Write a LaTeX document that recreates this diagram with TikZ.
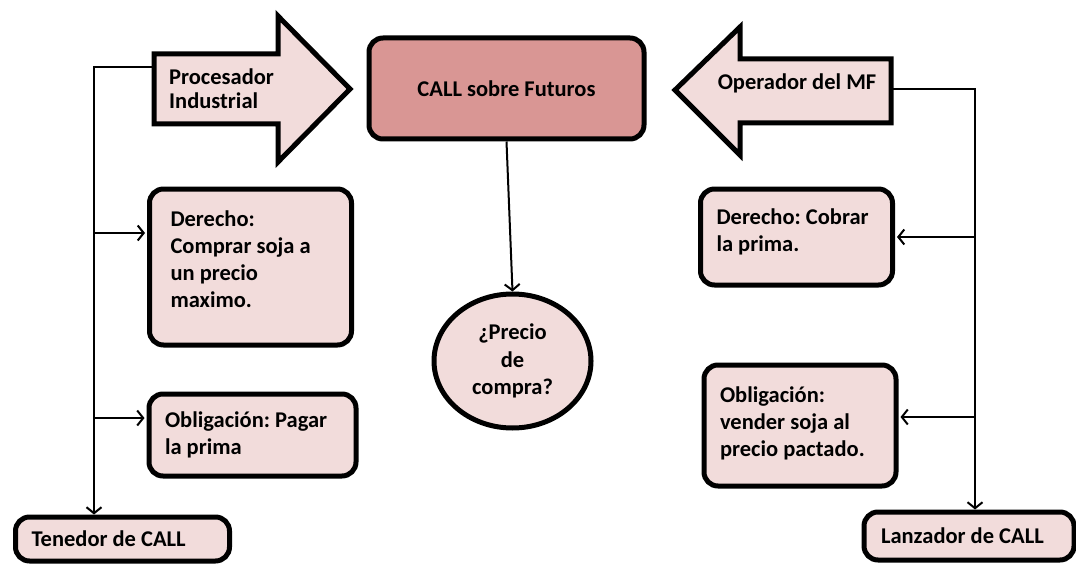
\documentclass[tikz,border=0pt]{standalone}
\usepackage{fontspec}
\setmainfont{Carlito}
\usetikzlibrary{arrows.meta,calc,shapes.geometric}
\definecolor{pinkl}{HTML}{F2DCDB}
\definecolor{pinkd}{HTML}{D99694}
\begin{document}
\frenchspacing
\begin{tikzpicture}[x=1pt,y=-1pt,
  txt/.style={font=\fontsize{22.5}{24}\selectfont\bfseries, align=flush left, inner sep=0pt},
  box/.style={draw=black, line width=5pt, fill=pinkl, rounded corners=14pt, align=flush left,
    font=\fontsize{22.5}{27}\selectfont\bfseries, inner ysep=0pt},
  blockarrow/.style={draw=black, line width=5pt, fill=pinkl, line join=miter},
  conn/.style={line width=2pt, -{Straight Barb[length=6pt,width=15pt,line width=2pt]}}
]
\useasboundingbox (0,0) rectangle (1076,567);

% block arrows
\draw[blockarrow] (154,54) -- (278,54) -- (278,16) -- (350,89) -- (278,162) -- (278,124) -- (154,124) -- cycle;
\node[txt, anchor=west] (proc) at (169,89) {Procesador\\Industrial};
\draw[blockarrow] (891,59) -- (740,59) -- (740,27) -- (675,90) -- (740,155) -- (740,123) -- (891,123) -- cycle;
\node[txt] (oper) at (797,83) {Operador del MF};

% central
\node[box, fill=pinkd, align=center, minimum width=275, minimum height=101] (call) at (506.5,88.5) {\raisebox{-3pt}{CALL sobre Futuros}};
\node[draw=black, line width=5pt, fill=pinkl, ellipse, minimum width=157, minimum height=134, align=center,
  font=\fontsize{22.5}{27.5}\selectfont\bfseries, inner sep=0pt] (prec) at (512.5,361) {¿Precio\\de\\compra?};

% left boxes
\node[box, text width=160, inner xsep=21, minimum height=156, text depth=97pt] (derL) at (250.5,267) {Derecho:\\Comprar soja a\\un precio\\maximo.};
\node[box, text width=175, inner xsep=16, minimum height=82] (oblL) at (252.5,435) {Obligación: Pagar\\la prima};
\node[box, text width=182, inner xsep=16, minimum height=44] (ten) at (122.5,539) {Tenedor de CALL};

% right boxes
\node[box, text width=160, inner xsep=16, minimum height=96, text depth=41pt] (derR) at (796.5,237) {Derecho: Cobrar\\la prima.};
\node[box, text width=160, inner xsep=16, minimum height=121, text depth=62pt] (oblR) at (800,425.5) {Obligación:\\vender soja al\\precio pactado.};
\node[box, text width=176, inner xsep=17, minimum height=48] (lanz) at (969,536) {Lanzador de CALL};

% connectors
\coordinate (procL) at (152,67);
\coordinate (operR) at (893,89);
\coordinate (lbus) at (94,0);
\coordinate (rbus) at (975,0);

\draw[conn] (procL) -| (ten.north -| lbus);
\draw[conn] (lbus |- 0,233) -- ($(derL.west |- 0,233)+(-2,0)$);
\draw[conn] (lbus |- 0,418) -- ($(oblL.west |- 0,418)+(-2,0)$);

\draw[conn] (operR) -| (lanz.north -| rbus);
\draw[conn] (rbus |- 0,237) -- ($(derR.east |- 0,237)+(2,0)$);
\draw[conn] (rbus |- 0,417) -- ($(oblR.east |- 0,417)+(2,0)$);

\draw[conn] (call.south) -- (prec.north);
\end{tikzpicture}
\end{document}
